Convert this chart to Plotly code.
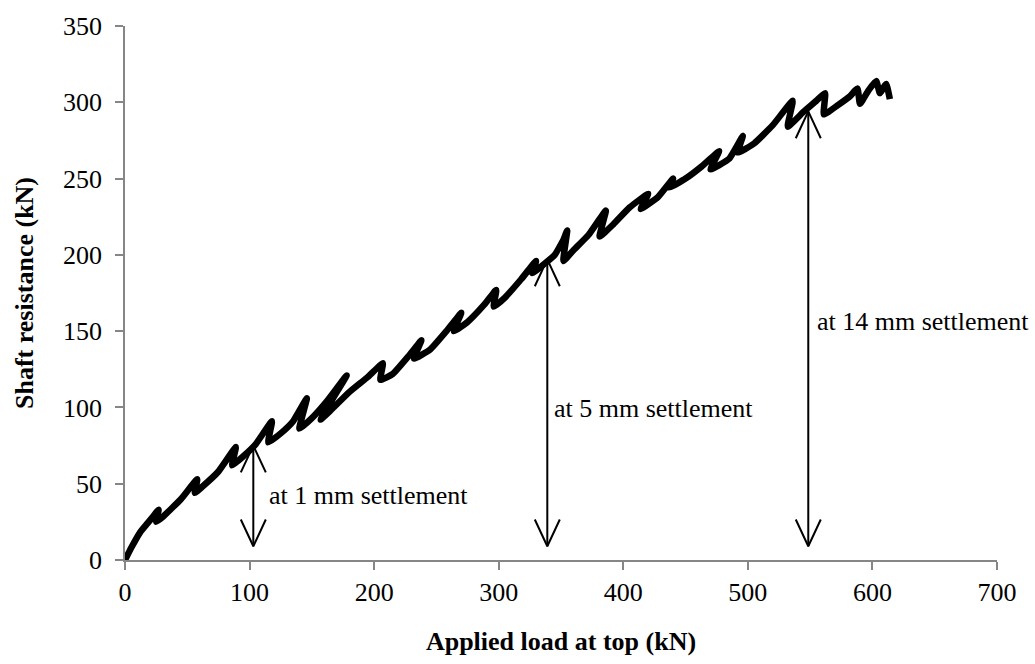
import plotly.graph_objects as go

# ---- data ----
applied_load_kn = [0, 5, 12, 18, 23, 27, 25, 30, 45, 58, 56, 62, 75, 89, 86, 95, 105, 118, 115, 125,
                   135, 146, 140, 150, 162, 178, 157, 165, 180, 195, 207, 205, 215, 228, 238, 232, 245,
                   258, 270, 264, 275, 288, 298, 296, 305, 318, 330, 327, 335, 345, 352, 355, 352, 360,
                   372, 386, 381, 392, 405, 420, 414, 428, 440, 437, 450, 463, 477, 470, 485, 496, 492,
                   505, 520, 536, 532, 545, 555, 562, 561, 572, 582, 588, 590, 597, 603, 606, 611, 614]
shaft_resistance_kn = [0, 8, 18, 24, 29, 33, 25, 28, 40, 53, 44, 48, 58, 74, 62, 68, 76, 91, 77, 83,
                       91, 106, 86, 93, 104, 121, 92, 98, 110, 120, 129, 118, 122, 134, 144, 132, 138,
                       150, 162, 150, 156, 167, 177, 166, 172, 184, 196, 188, 193, 200, 210, 216, 196, 203,
                       213, 229, 212, 220, 231, 240, 230, 238, 250, 244, 250, 258, 268, 256, 263, 278, 267,
                       273, 285, 301, 284, 294, 301, 306, 292, 298, 304, 309, 299, 308, 314, 306, 312, 302]

arrow_load_kn = [103, 339, 548.5]
arrow_top_kn = [75, 197, 294]
arrow_bottom_kn = 9
arrow_labels = ["at 1 mm settlement", "at 5 mm settlement", "at 14 mm settlement"]
label_x_kn = [114, 343, 554]
label_y_kn = [42, 99, 156]

x_ticks = [0, 100, 200, 300, 400, 500, 600, 700]
y_ticks = [0, 50, 100, 150, 200, 250, 300, 350]

# ---- layout geometry ----
W, H = 1035, 664
ML, MR, MT, MB = 125, 38, 22, 104
XR, YR = [0, 700], [0, 350]
px_x = (W - ML - MR) / (XR[1] - XR[0])
px_y = (H - MT - MB) / (YR[1] - YR[0])
head_half_w = 12.5 / px_x
head_len = 27 / px_y

FONT = "Liberation Serif"

fig = go.Figure()

# arrows (shaft + open heads), drawn from the arrow lists
for ax, top in zip(arrow_load_kn, arrow_top_kn):
    bot = arrow_bottom_kn
    xs = [ax, ax, None,
          ax - head_half_w, ax, ax + head_half_w, None,
          ax - head_half_w, ax, ax + head_half_w]
    ys = [bot, top, None,
          top - head_len, top, top - head_len, None,
          bot + head_len, bot, bot + head_len]
    fig.add_trace(go.Scatter(x=xs, y=ys, mode="lines",
                             line=dict(color="black", width=2),
                             hoverinfo="skip", showlegend=False))

fig.add_trace(go.Scatter(x=applied_load_kn, y=shaft_resistance_kn, mode="lines",
                         line=dict(color="black", width=6.5, shape="spline", smoothing=0.4),
                         showlegend=False))

for lx, ly, txt in zip(label_x_kn, label_y_kn, arrow_labels):
    fig.add_annotation(x=lx, y=ly, text=txt, showarrow=False,
                       xanchor="left", yanchor="middle",
                       font=dict(family=FONT, size=26, color="black"))

axis_common = dict(showgrid=False, zeroline=False, showline=True,
                   linecolor="#868686", linewidth=1.5,
                   ticks="outside", ticklen=8, tickcolor="#868686", tickwidth=1.5,
                   tickfont=dict(family=FONT, size=26, color="black"))

fig.update_layout(
    width=W, height=H,
    margin=dict(l=ML, r=MR, t=MT, b=MB),
    paper_bgcolor="white", plot_bgcolor="white",
    font=dict(family=FONT, color="black"),
    xaxis=dict(range=XR, tickvals=x_ticks, **axis_common,
               title=dict(text="<b>Applied load at top (kN)</b>",
                          font=dict(family=FONT, size=26, color="black"),
                          standoff=26)),
    yaxis=dict(range=YR, tickvals=y_ticks, **axis_common,
               ticklabelstandoff=8,
               title=dict(text="<b>Shaft resistance (kN)</b>",
                          font=dict(family=FONT, size=26, color="black"),
                          standoff=22)),
)

fig.write_html("out.html")
